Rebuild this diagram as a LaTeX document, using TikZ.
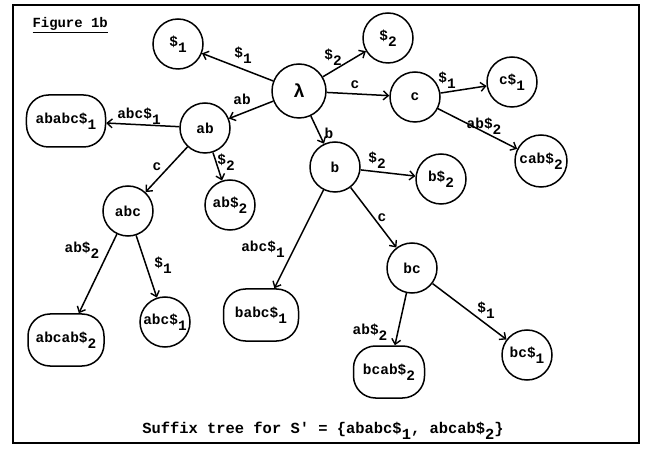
\documentclass[tikz,border=0pt]{standalone}
\usepackage{fontspec}
\setmonofont{Liberation Mono}
\usetikzlibrary{arrows.meta}

% lowered index digit, typewriter style
\newcommand\ix[1]{\raisebox{-0.4em}{#1}}

\tikzset{
  tw/.style={font=\ttfamily\bfseries\fontsize{14.5}{14.5}\selectfont},
  st/.style={tw, circle, draw, line width=1.5bp, minimum size=50bp, inner sep=0pt},
  lf/.style={tw, draw, line width=1.5bp, rounded corners=22bp, minimum height=52bp, inner sep=0pt},
  lbl/.style={tw, inner sep=1pt},
  edge/.style={line width=1.5bp, -{Straight Barb[length=5bp,width=9bp,line width=1.4bp]}},
}

\begin{document}
\begin{tikzpicture}[x=1bp,y=-1bp]
  \useasboundingbox (0,0) rectangle (647,452);
  \draw[line width=1.8bp] (13,5) rectangle (639,443);

  \node[tw, anchor=west, font=\ttfamily\bfseries\fontsize{14}{14}\selectfont] (title) at (29,25) {\underline{Figure 1b}};

  % states of the tree
  \node[st, minimum size=54bp, font=\ttfamily\bfseries\fontsize{19}{19}\selectfont] (root) at (299,91) {λ};
  \node[st] (s1)    at (178,44)  {\$\ix{1}};
  \node[st] (s2)    at (388,38)  {\$\ix{2}};
  \node[st] (c)     at (415,97)  {c};
  \node[st] (cs1)   at (512,82)  {c\$\ix{1}};
  \node[st, minimum size=52bp] (cab) at (541,161) {cab\$\ix{2}};
  \node[lf, minimum width=79bp] (ababc) at (66,121) {ababc\$\ix{1}};
  \node[st] (ab)    at (205,128) {ab};
  \node[st] (b)     at (335,167) {b};
  \node[st] (bs2)   at (441,179) {b\$\ix{2}};
  \node[st] (abc)   at (128,211) {abc};
  \node[st] (abs2)  at (230,205) {ab\$\ix{2}};
  \node[st] (bc)    at (412,268) {bc};
  \node[lf, minimum width=75bp] (babc)  at (261,315) {babc\$\ix{1}};
  \node[lf, minimum width=76bp] (abcab) at (66,340)  {abcab\$\ix{2}};
  \node[st] (abcs1) at (165,322) {abc\$\ix{1}};
  \node[lf, minimum width=71bp] (bcab)  at (389,372) {bcab\$\ix{2}};
  \node[st] (bcs1)  at (527,355) {bc\$\ix{1}};

  % transitions
  \draw[edge] (root) -- (s1);
  \draw[edge] (root) -- (s2);
  \draw[edge] (root) -- (c);
  \draw[edge] (root) -- (ab);
  \draw[edge] (root) -- (b);
  \draw[edge] (c) -- (cs1);
  \draw[edge] (c) -- (cab);
  \draw[edge] (ab) -- (ababc);
  \draw[edge] (ab) -- (abc);
  \draw[edge] (ab) -- (abs2);
  \draw[edge] (b) -- (bs2);
  \draw[edge] (b) -- (bc);
  \draw[edge] (b) -- (babc);
  \draw[edge] (abc) -- (abcab);
  \draw[edge] (abc) -- (abcs1);
  \draw[edge] (bc) -- (bcab);
  \draw[edge] (bc) -- (bcs1);

  % transition labels
  \node[lbl] (l1)  at (243,55)  {\$\ix{1}};
  \node[lbl] (l2)  at (333,57)  {\$\ix{2}};
  \node[lbl] (l3)  at (355,85)  {c};
  \node[lbl] (l4)  at (242,99)  {ab};
  \node[lbl] (l5)  at (329,133) {b};
  \node[lbl] (l6)  at (447,80)  {\$\ix{1}};
  \node[lbl] (l7)  at (484,126) {ab\$\ix{2}};
  \node[lbl] (l8)  at (139,116) {abc\$\ix{1}};
  \node[lbl] (l9)  at (157,167) {c};
  \node[lbl] (l10) at (226,162) {\$\ix{2}};
  \node[lbl] (l11) at (377,160) {\$\ix{2}};
  \node[lbl] (l12) at (382,218) {c};
  \node[lbl] (l13) at (263,249) {abc\$\ix{1}};
  \node[lbl] (l14) at (82,250)  {ab\$\ix{2}};
  \node[lbl] (l15) at (163,265) {\$\ix{1}};
  \node[lbl] (l16) at (370,332) {ab\$\ix{2}};
  \node[lbl] (l17) at (486,310) {\$\ix{1}};

  \node[tw, font=\ttfamily\bfseries\fontsize{15.5}{15.5}\selectfont] (caption) at (323,431) {Suffix tree for S' = \{ababc\$\ix{1}, abcab\$\ix{2}\}};
\end{tikzpicture}
\end{document}
